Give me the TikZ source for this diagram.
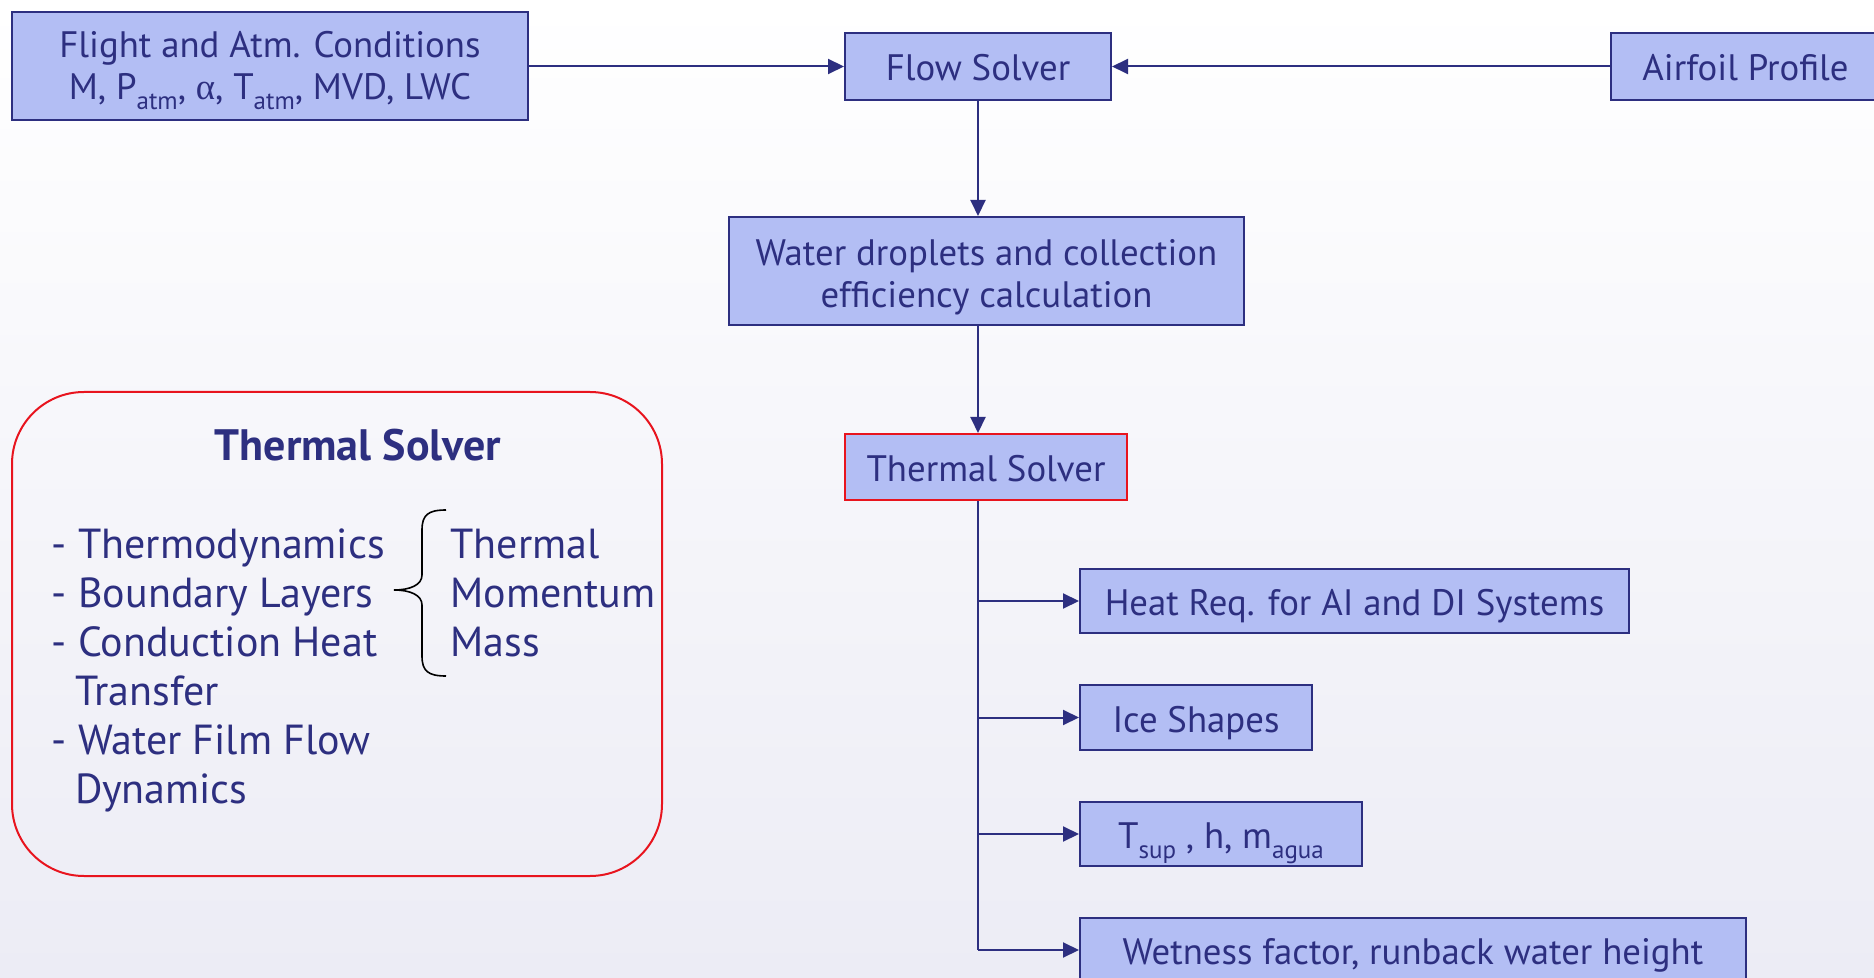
\documentclass[tikz,border=0pt]{standalone}
\usepackage{fontspec}
\setmainfont{PT Sans}
\newfontfamily\grk{Liberation Serif}
\usetikzlibrary{arrows.meta}
\definecolor{navy}{RGB}{45,47,128}
\definecolor{boxfill}{RGB}{179,190,244}
\definecolor{redline}{RGB}{232,20,30}
\definecolor{bgbottom}{RGB}{236,236,245}
\newcommand{\mysub}[1]{\raisebox{-0.55ex}{\fontsize{12.5}{12.5}\selectfont #1}}
\begin{document}
\begin{tikzpicture}[x=0.5pt,y=-0.5pt,
  box/.style={draw=navy, line width=1pt, fill=boxfill, text=navy,
    font=\fontsize{18.4}{21}\selectfont, inner sep=0pt, align=center},
  oneline/.style={text height=16pt, text depth=1.5pt},
  conn/.style={draw=navy, line width=1pt, -{Triangle[length=8pt,width=7.5pt]}},
  item/.style={text=navy, font=\fontsize{21}{24.5}\selectfont, inner sep=0pt, anchor=base west}]
\useasboundingbox (0,0) rectangle (1874,978);
\shade[top color=white, bottom color=bgbottom] (0,0) rectangle (1874,978);

% top row
\node[box, minimum width=258pt, minimum height=54pt] (flight) at (270,66.5)
  {\rule{0pt}{16.8pt}Flight and Atm. Conditions\\ M, P\mysub{atm}, {\grk α}, T\mysub{atm}, MVD, LWC};
\node[box, oneline, minimum width=133pt, minimum height=33.5pt] (flow) at (978,66.5) {Flow Solver};
\node[box, oneline, minimum width=134.5pt, minimum height=33.5pt] (airfoil) at (1745.5,66.5) {Airfoil Profile};

\node[box, minimum width=257.5pt, minimum height=54pt] (water) at (986.5,271)
  {\rule{0pt}{19.5pt}Water droplets and collection\\ efficiency calculation};
\node[box, oneline, draw=redline, minimum width=141pt, minimum height=33pt] (thermal) at (986,467) {Thermal Solver};

\node[box, oneline, anchor=west, minimum width=274.5pt, minimum height=32pt] (heat) at (1079,601) {Heat Req. for AI and DI Systems};
\node[box, oneline, anchor=west, minimum width=116pt, minimum height=32.5pt] (ice) at (1079,717.5) {Ice Shapes};
\node[box, oneline, anchor=west, minimum width=141pt, minimum height=32pt] (tsup) at (1079,834) {T\mysub{sup} , h, m\mysub{agua}};
\node[box, oneline, anchor=west, minimum width=333pt, minimum height=32pt] (wet) at (1079,950) {Wetness factor, runback water height};

% connectors
\draw[conn] (flight.east) -- (flow.west);
\draw[conn] (airfoil.west) -- (flow.east);
\draw[conn] (flow.south) -- (flow.south |- water.north);
\draw[conn] (water.south -| flow.south) -- (thermal.north -| flow.south);
\coordinate (spine) at (thermal.south -| flow.south);
\draw[navy, line width=1pt] (spine) -- (spine |- wet.west);
\foreach \n in {heat,ice,tsup,wet} \draw[conn] (spine |- \n.west) -- (\n.west);

% left panel
\node[draw=redline, line width=1pt, rounded corners=36pt, minimum width=325pt, minimum height=242pt] (panel) at (337,634) {};
\node[text=navy, font=\bfseries\fontsize{22}{26}\selectfont] (title) at (358,445) {Thermal Solver};
\node[item] (l1) at (51,558) {\makebox[13.5pt][l]{-}Thermodynamics};
\node[item] (l2) at (51,607) {\makebox[13.5pt][l]{-}Boundary Layers};
\node[item] (l3) at (51,656) {\makebox[13.5pt][l]{-}Conduction Heat};
\node[item] (l4) at (75,705) {Transfer};
\node[item] (l5) at (51,754) {\makebox[13.5pt][l]{-}Water Film Flow};
\node[item] (l6) at (75,803) {Dynamics};
\node[item] (r1) at (450,558) {Thermal};
\node[item] (r2) at (450,607) {Momentum};
\node[item] (r3) at (450,656) {Mass};
\draw[black, line width=0.8pt] (446,510) .. controls (428,510) and (422,515) .. (422,530) -- (422,575)
  .. controls (422,585) and (410,590) .. (394,590) .. controls (410,590) and (422,595) .. (422,605)
  -- (422,656) .. controls (422,671) and (428,676) .. (446,676);
\end{tikzpicture}
\end{document}
